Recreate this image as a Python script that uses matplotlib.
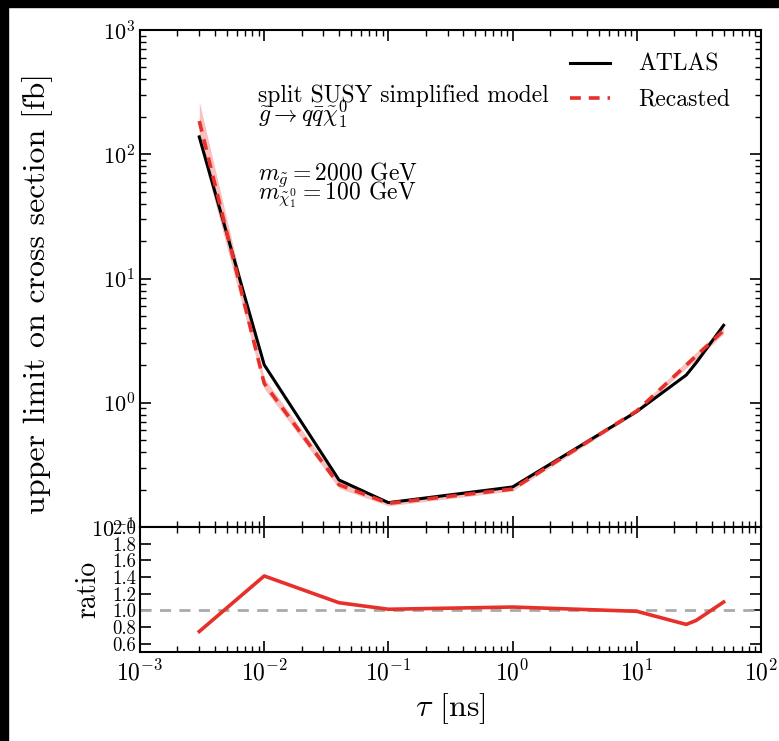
import numpy as np
import matplotlib
matplotlib.use('Agg')
import matplotlib.pyplot as plt
from matplotlib.patches import Rectangle
from matplotlib.ticker import LogLocator, NullFormatter

plt.rcParams['font.family'] = 'cmr10'
plt.rcParams['mathtext.fontset'] = 'cm'
plt.rcParams['axes.formatter.use_mathtext'] = True

# lifetime points [ns]
tau = [0.003, 0.01, 0.04, 0.1, 1.0, 10.0, 25.0, 30.0, 50.0]
# upper limits [fb]
atlas = [138, 2.02, 0.239, 0.157, 0.210, 0.850, 1.67, 2.09, 4.20]
recast = [185, 1.43, 0.219, 0.155, 0.202, 0.860, 2.01, 2.38, 3.82]
# uncertainty band on the recast limit
band_lo = [125, 1.30, 0.205, 0.148, 0.195, 0.830, 1.90, 2.20, 3.60]
band_hi = [265, 1.58, 0.235, 0.163, 0.210, 0.890, 2.15, 2.55, 4.05]
ratio_ticks = [0.6, 0.8, 1.0, 1.2, 1.4, 1.6, 1.8, 2.0]

red = '#e8302a'

fig = plt.figure(figsize=(7.79, 7.41), dpi=100)
ax = fig.add_axes([140/779, 214/741, 621/779, 497/741])
axr = fig.add_axes([140/779, 89/741, 621/779, 125/741], sharex=ax)

ax.fill_between(tau, band_lo, band_hi, color=red, alpha=0.3, lw=0)
ax.plot(tau, atlas, color='black', lw=2.2, label='ATLAS')
ax.plot(tau, recast, color=red, lw=2.6, ls=(0, (3, 2.2)), label='Recasted')
ax.set_xscale('log')
ax.set_yscale('log')
ax.set_xlim(1e-3, 1e2)
ax.set_ylim(1e-1, 1e3)
ax.set_ylabel('upper limit on cross section [fb]', fontsize=23)
ax.yaxis.set_label_coords(-0.14, 0.47)
ax.legend(loc='upper right', frameon=False, fontsize=17, handlelength=1.7,
          handletextpad=1.2, labelspacing=0.55, bbox_to_anchor=(0.985, 0.995))

# annotation lines (baselines in axes fraction)
ax.text(0.19, 0.855, 'split SUSY simplified model', transform=ax.transAxes,
        fontsize=17, va='baseline')
ax.text(0.19, 0.815, r'$\tilde{g}\rightarrow q\bar{q}\tilde{\chi}^0_1$',
        transform=ax.transAxes, fontsize=17, va='baseline')
ax.text(0.19, 0.698, r'$m_{\tilde{g}} = 2000$ GeV', transform=ax.transAxes,
        fontsize=17, va='baseline')
ax.text(0.19, 0.658, r'$m_{\tilde{\chi}^0_1} = 100$ GeV', transform=ax.transAxes,
        fontsize=17, va='baseline')
plt.setp(ax.get_xticklabels(), visible=False)

ratio = np.array(atlas) / np.array(recast)
axr.axhline(1.0, color='#aaaaaa', lw=2, ls=(0, (4, 3)))
axr.plot(tau, ratio, color=red, lw=2.6)
axr.set_ylim(0.5, 2.0)
axr.set_yticks(ratio_ticks)
axr.set_yticklabels(['%.1f' % v for v in ratio_ticks])
axr.set_ylabel('ratio', fontsize=20)
axr.yaxis.set_label_coords(-0.062, 0.5)
axr.set_xlabel(r'$\tau$ [ns]', fontsize=23)

for a in (ax, axr):
    a.tick_params(which='both', direction='in', top=True, right=True)
    a.tick_params(which='major', length=8, width=1.2, labelsize=16)
    a.tick_params(which='minor', length=4, width=1.0)
    a.xaxis.set_minor_locator(LogLocator(subs=np.arange(2, 10), numticks=20))
    a.xaxis.set_minor_formatter(NullFormatter())
    for s in a.spines.values():
        s.set_linewidth(1.5)
ax.yaxis.set_minor_locator(LogLocator(subs=np.arange(2, 10), numticks=20))
ax.yaxis.set_minor_formatter(NullFormatter())
axr.tick_params(axis='y', labelsize=13.5, pad=3)
axr.tick_params(axis='x', labelsize=17, pad=6)

# screenshot border
fig.add_artist(Rectangle((0, 734/741), 1, 7/741, transform=fig.transFigure, color='black'))
fig.add_artist(Rectangle((0, 0), 8/779, 1, transform=fig.transFigure, color='black'))

fig.savefig('out.png', dpi=100)
